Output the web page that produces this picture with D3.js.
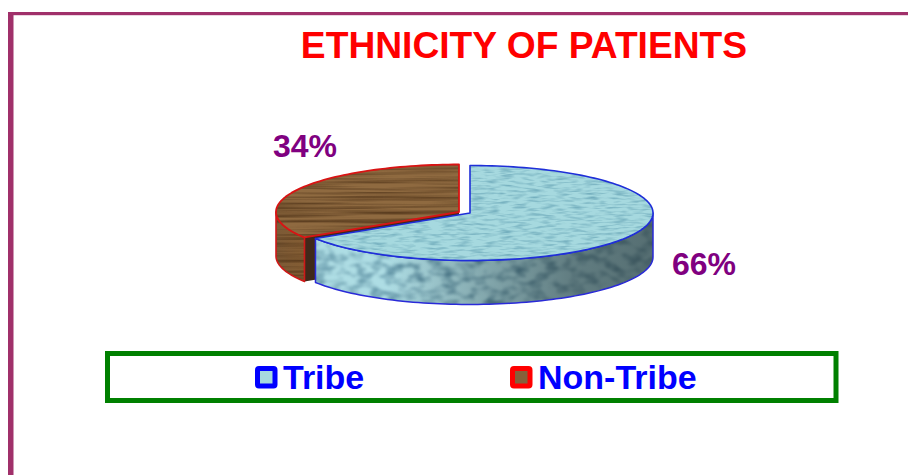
<!DOCTYPE html>
<html><head><meta charset="utf-8">
<script src="https://cdn.jsdelivr.net/npm/d3@7/dist/d3.min.js"></script>
<style>html,body{margin:0;padding:0;background:#fff}svg{display:block}text{font-family:"Liberation Sans",Arial,sans-serif;font-weight:700}</style>
</head><body><svg id="c" width="908" height="475"></svg>
<script>
const categories=["Tribe","Non-Tribe"];
const values=[66,34];
const labels=["66%","34%"];
const title="ETHNICITY OF PATIENTS";

const svg=d3.select("#c");
const defs=svg.append("defs");
const W=908,H=475;

// page frame
svg.append("rect").attr("x",8).attr("y",12).attr("width",5.5).attr("height",H-12).attr("fill","#a0306a");
svg.append("rect").attr("x",8).attr("y",12).attr("width",W-8).attr("height",3.2).attr("fill","#a0306a");

svg.append("text").attr("x",524).attr("y",58).attr("text-anchor","middle").attr("font-size",37.2).attr("fill","#ff0000").text(title);

// projection of the unit disc
const cx=470,cy=213,rx=183,ry=47.5,depth=44;
const px=d3.scaleLinear().domain([-1,1]).range([cx-rx,cx+rx]);
const py=d3.scaleLinear().domain([-1,1]).range([cy-ry,cy+ry]);
const pie=d3.pie().sort(null).value(d=>d).startAngle(0).endAngle(2*Math.PI);
const arcs=pie(values);
const offsets=[[0,0],[-11,-1]];

function rim(a0,a1){
  const n=Math.max(8,Math.ceil((a1-a0)/0.03));
  return d3.range(n+1).map(i=>{const a=a0+(a1-a0)*i/n;return [Math.sin(a),-Math.cos(a)];});
}
const line=(dx,dy)=>d3.line().x(d=>px(d[0])+dx).y(d=>py(d[1])+dy);

function topPath(a,o){const pts=[[0,0],...rim(a.startAngle,a.endAngle)];return line(o[0],o[1])(pts)+"Z";}
function sidePath(a0,a1,o){
  const s=Math.max(a0,Math.PI/2),e=a1;
  const r=rim(s,e);
  const down=r.slice().reverse();
  return line(o[0],o[1])(r)+"L"+line(o[0],o[1]+depth)(down).slice(1)+"Z";
}

// textures
function turb(id,freq,oct,seed,matrix,blur){
  const f=defs.append("filter").attr("id",id).attr("x",0).attr("y",0).attr("width","100%").attr("height","100%").attr("color-interpolation-filters","sRGB");
  f.append("feTurbulence").attr("type","fractalNoise").attr("baseFrequency",freq).attr("numOctaves",oct).attr("seed",seed);
  f.append("feColorMatrix").attr("type","matrix").attr("values",matrix);
  if(blur) f.append("feGaussianBlur").attr("stdDeviation",blur);
}
turb("wood","0.006 0.3",3,4,"0 0 0 0 0.24  0 0 0 0 0.14  0 0 0 0 0.05  1.5 0 0 0 -0.55","0.4");
turb("water","0.07 0.42",2,9,"0 0 0 0 0.45  0 0 0 0 0.68  0 0 0 0 0.74  2.4 0 0 0 -1.05","0.5");
turb("pebble","0.07 0.11",2,7,"0 0 0 0 0.32  0 0 0 0 0.52  0 0 0 0 0.60  2.6 0 0 0 -1.1","0.8");

// shading laid over the textured wall, clear on the left, dark on the right
const g1=defs.append("linearGradient").attr("id","blueShade").attr("gradientUnits","userSpaceOnUse")
  .attr("x1",px(-1)+25).attr("x2",px(1)).attr("y1",0).attr("y2",0);
[[0,0],[.22,0],[.5,.32],[.75,.58],[1,.68]].forEach(s=>g1.append("stop").attr("offset",s[0]).attr("stop-color","#2c3a3c").attr("stop-opacity",s[1]));
const g2=defs.append("linearGradient").attr("id","woodSide").attr("gradientUnits","userSpaceOnUse")
  .attr("x1",px(-1)-11).attr("x2",px(-1)+40).attr("y1",0).attr("y2",0);
[[0,"#7c5a36"],[1,"#8a5f30"]].forEach(s=>g2.append("stop").attr("offset",s[0]).attr("stop-color",s[1]));

function textured(path,id,base,filter,stroke,sw,shade){
  const cid="clip-"+id;
  defs.append("clipPath").attr("id",cid).append("path").attr("d",path);
  svg.append("path").attr("d",path).attr("fill",base);
  const tex=svg.append("g").attr("clip-path",`url(#${cid})`);
  tex.append("rect").attr("x",250).attr("y",150).attr("width",430).attr("height",170).attr("filter",`url(#${filter})`);
  if(shade) svg.append("path").attr("d",path).attr("fill",shade);
  svg.append("path").attr("d",path).attr("fill","none").attr("stroke",stroke).attr("stroke-width",sw).attr("stroke-linejoin","round");
}

// Non-Tribe slice, pulled out to the left
const red=arcs[1], oR=offsets[1];
const apexR=[px(0)+oR[0],py(0)+oR[1]];
const endR=[px(Math.sin(red.startAngle))+oR[0],py(-Math.cos(red.startAngle))+oR[1]];
svg.append("path").attr("d",d3.line()([endR,apexR,[apexR[0],apexR[1]+depth],[endR[0],endR[1]+depth]])+"Z").attr("fill","#40291a");
textured(sidePath(red.startAngle,Math.min(red.endAngle,1.5*Math.PI),oR),"rs","url(#woodSide)","wood","#d01818",1.6);
textured(topPath(red,oR),"rt","#8f6a40","wood","#d81414",1.8);

// Tribe slice
const blue=arcs[0], oB=offsets[0];
textured(sidePath(blue.startAngle,blue.endAngle,oB),"bs","#aedde4","pebble","#2a2ad8",1.5,"url(#blueShade)");
textured(topPath(blue,oB),"bt","#a6d9df","water","#1f2fd8",1.6);

svg.append("text").attr("x",273).attr("y",157).attr("font-size",32).attr("fill","#800080").text(labels[1]);
svg.append("text").attr("x",672).attr("y",275).attr("font-size",32).attr("fill","#800080").text(labels[0]);

// legend
svg.append("rect").attr("x",107.5).attr("y",353.5).attr("width",728.5).attr("height",47).attr("fill","#fff").attr("stroke","#008000").attr("stroke-width",5);
const legendX=d3.scaleOrdinal().domain(categories).range([255,510]);
const mk=[["#0000ff","#a6d9df"],["#ff0000","#85603a"]];
const lg=svg.selectAll("g.lg").data(categories).join("g").attr("class","lg").attr("transform",d=>`translate(${legendX(d)},366)`);
lg.append("rect").attr("x",2.5).attr("y",2.5).attr("width",17.5).attr("height",17.5).attr("rx",1.5)
  .attr("fill",(d,i)=>mk[i][1]).attr("stroke",(d,i)=>mk[i][0]).attr("stroke-width",5);
lg.append("text").attr("x",28).attr("y",23).attr("font-size",34).attr("fill","#0000ff").text(d=>d);
</script></body></html>
